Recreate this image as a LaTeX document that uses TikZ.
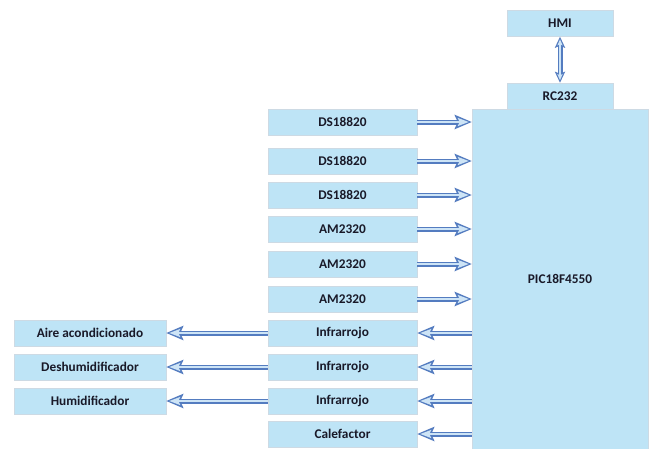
\documentclass[tikz,border=0pt]{standalone}
\usepackage{fontspec}
\setmainfont{Carlito}
\usepackage{tikz}
\usetikzlibrary{arrows.meta}
\definecolor{boxfill}{RGB}{190,228,246}
\definecolor{boxline}{RGB}{205,218,228}
\definecolor{arrowout}{RGB}{84,124,192}
\definecolor{arrowin}{RGB}{205,228,246}
\definecolor{textcol}{RGB}{25,25,40}

\begin{document}
\begin{tikzpicture}[x=1pt, y=-1pt, font=\fontsize{13.3}{15}\selectfont\bfseries, text=textcol]
        \tikzstyle{block} = [rectangle, draw=boxline, fill=boxfill, minimum width=149pt, minimum height=26pt, inner sep=0pt]
        \tikzstyle{outblock} = [block, minimum width=152pt]
        \tikzstyle{topblock} = [block, minimum width=106pt]
        \tikzstyle{link} = [draw=arrowout, line width=5pt, -{Stealth[length=17pt, width=14pt, inset=3pt]},
            postaction={draw=arrowin, line width=2pt, -{Stealth[length=11pt, width=8pt, inset=2pt]}, shorten >=3pt}]
        \tikzstyle{twoway} = [draw=arrowout, line width=5pt, {Stealth[length=11pt, width=10pt, inset=2pt]}-{Stealth[length=11pt, width=10pt, inset=2pt]},
            postaction={draw=arrowin, line width=2pt, {Stealth[length=6pt, width=5pt, inset=1pt]}-{Stealth[length=6pt, width=5pt, inset=1pt]}, shorten >=2.6pt, shorten <=2.6pt}]

\useasboundingbox[fill=white] (0,0) rectangle (654,448);

\node[topblock] (hmi) at (560,23.5) {HMI};
        \node[topblock] (rc) at (560,96) {RC232};
        \node[block, minimum width=176pt, minimum height=360pt] (pic) at (560,289) {};
        \node (piclabel) at (560,279) {PIC18F4550};

\node[block] (ds1) at (342.5,122) {DS18820};
        \node[block] (ds2) at (342.5,161) {DS18820};
        \node[block] (ds3) at (342.5,195) {DS18820};
        \node[block] (am1) at (342.5,229) {AM2320};
        \node[block] (am2) at (342.5,264) {AM2320};
        \node[block] (am3) at (342.5,299) {AM2320};
        \node[block] (ir1) at (342.5,333) {Infrarrojo};
        \node[block] (ir2) at (342.5,367) {Infrarrojo};
        \node[block] (ir3) at (342.5,401) {Infrarrojo};
        \node[block] (calef) at (342.5,434) {Calefactor};

\node[outblock] (aire) at (90,333) {Aire acondicionado};
        \node[outblock] (deshum) at (90,367) {Deshumidificador};
        \node[outblock] (humid) at (90,401) {Humidificador};

\draw[twoway] (hmi) -- (rc);

\foreach \s in {ds1,ds2,ds3,am1,am2,am3}
            \draw[link] (\s.east) -- (\s -| pic.west);

\foreach \s in {ir1,ir2,ir3,calef}
            \draw[link] (\s -| pic.west) -- (\s.east);

\draw[link] (ir1.west) -- (aire.east);
        \draw[link] (ir2.west) -- (deshum.east);
        \draw[link] (ir3.west) -- (humid.east);

    \end{tikzpicture}
\end{document}
